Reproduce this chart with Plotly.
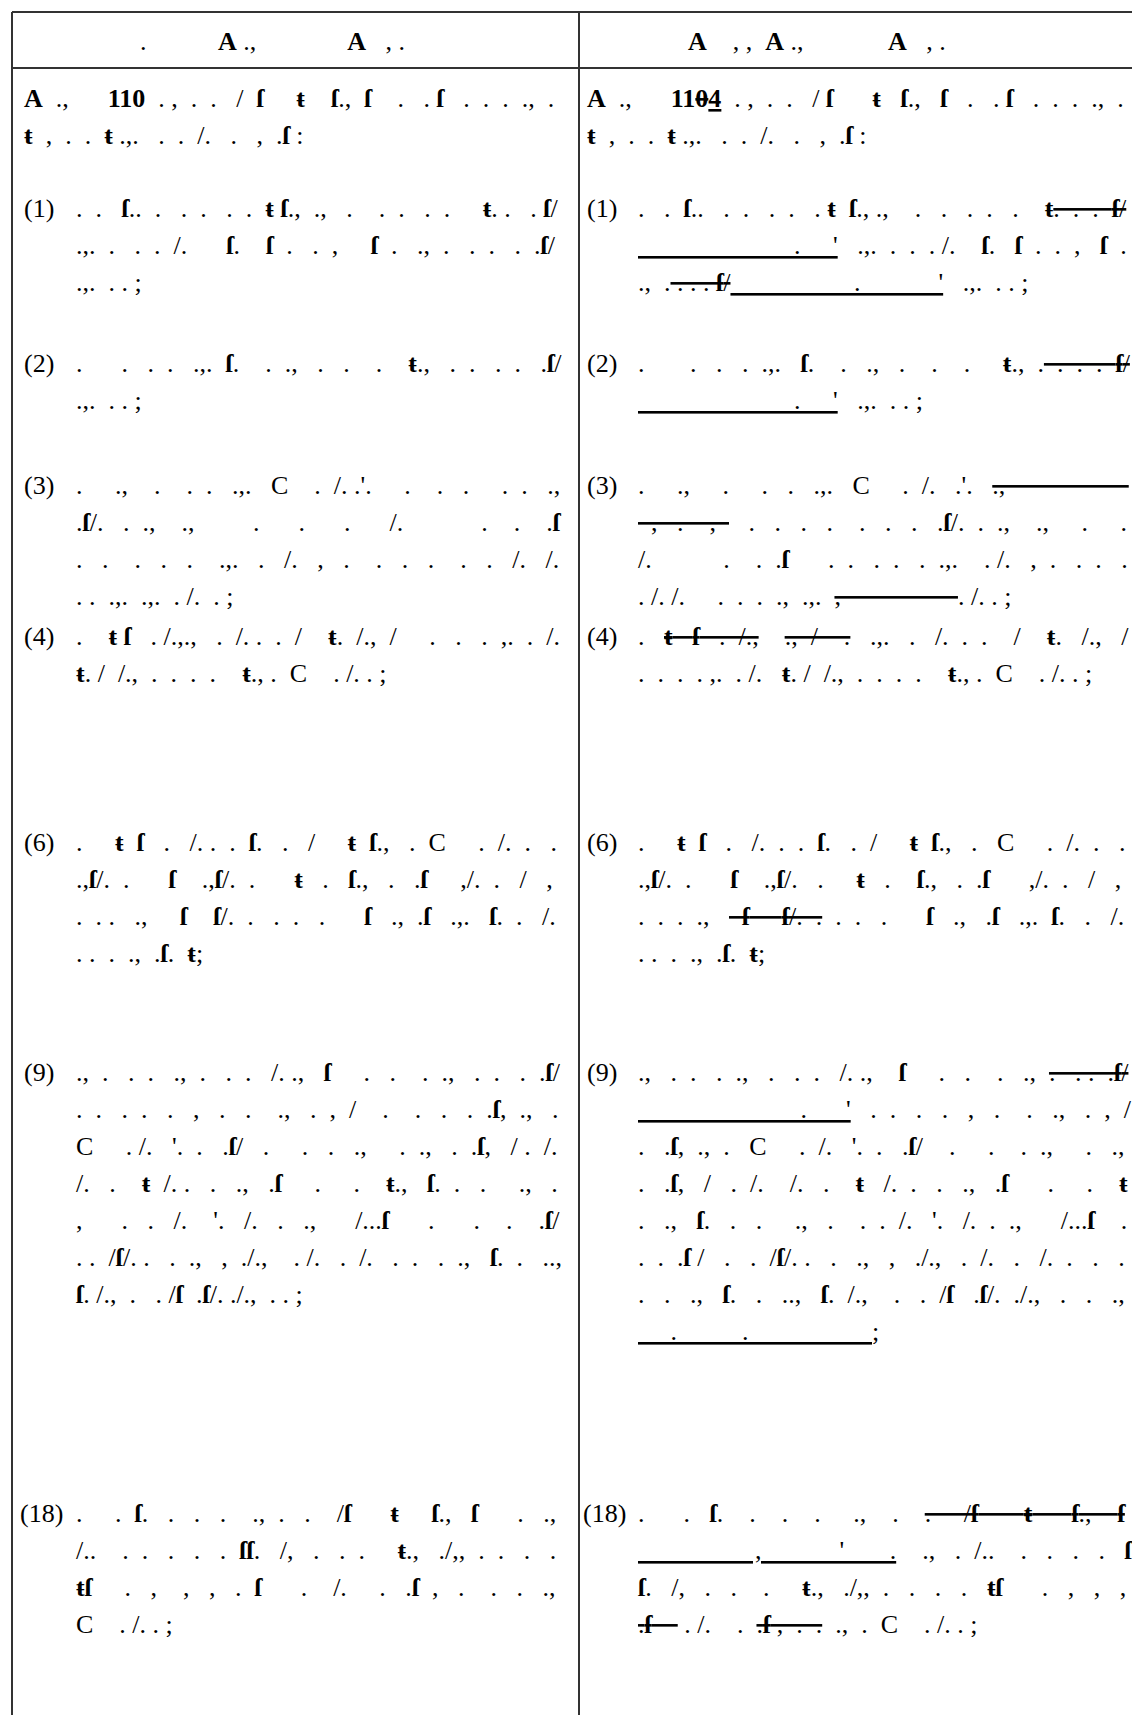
import re

import plotly.graph_objects as go

# ---------------------------------------------------------------------------
# Table content (markup: *bold*, ~struck~, _underlined_, F / T = bold glyphs)
# ---------------------------------------------------------------------------

header_left = ".           *A* .,              *A*   , ."
header_right = "*A*    , ,  *A* .,             *A*   , ."

intro_left = [
    "*A* .,      *110* . , .  .  / F     T   F.,  F   .  . F  .  . .  ., .",
    "T  ,  .  .  T .,.   .  .  /.   .   ,  .F :",
]
intro_right = [
    "*A* .,      *11~0~_4_* . , .  .  / F     T   F.,  F   .  . F  .  . .  ., .",
    "T  ,  .  .  T .,.   .  .  /.   .   ,  .F :",
]

item_labels = ["(1)", "(2)", "(3)", "(4)", "(6)", "(9)", "(18)"]

items_left = [
    [
        ".  .  F..  .  .  .  .  . T F., .,   .   .  .  .  .    T. .  . F/",
        ".,.  .  .  . /.      F.   F  .  .  ,    F  .  .,  .  .  .  .  .F/",
        ".,.  . . ;",
    ],
    [
        ".      .  .  .  .,.  F.   .  .,  .   .   .    T.,  .  .  .  .  .F/",
        ".,.  . . ;",
    ],
    [
        ".    .,    .   .  .  .,.  C    . /. .'.    .   .   .    .  .  .,",
        ".F/. . .,  .,        .    .    .     /.          .   .  .F",
        ".  .  .  .  .  .,.  . /.  ,  .  .  .  .  .  . /.  /.",
        ". .  .,.  .,.  . /.  . ;",
    ],
    [
        ".   T F  . /.,.,  . /. . .  /   T. /.,  /    .  .   . ,.  . /.",
        "T. /  /.,  .  .  .  .    T., .  C    . /. . ;",
    ],
    [
        ".    T F  .  /. . . F.  .  /    T F.,  .  C    . /. .  .",
        ".,F/. .    F   .,F/. .    T  .  F.,  . .F    ,/. . /  ,",
        ". . .  .,    F    F/. .  .  .  .     F  .,  .F  .,.  F.  .  /.",
        ". .  .  .,  .F.  T;",
    ],
    [
        ".,  .  .  .  .,  .  .  .  /. .,   F    .   .   .  .,  .  .  .  .F/",
        ". .  .  .  .  ,  .   .   .,  . , /    .   .  .  .  .F, .,  .",
        "C    . /.  '.  .  .F/   .    .   .  .,    .  .,  .  .F,  / . /.",
        "/.  .   T /. .  .  .,  .F    .    .   T.,  F.  .  .    .,  .",
        ",    .  . /.  '.  /. . .,     /...F    .    .   .  .F/",
        ". . /F/. .  .  .,  ,  ./.,   . /.  .  /.  .  .  .  .,  F.  .  ..,",
        "F. /.,  .   . /F  .F/. ./.,  . . ;",
    ],
    [
        ".    . F.  .  .  .   .,  .  .   /F     T    F.,  F     .  .,",
        "/..   .  .  .  .  .  FF.  /,  .  .  .    T.,  ./,, .  .  .  .",
        "TF    .  ,  ,  ,  . F     .  /.    .  .F ,  .  .  .  .,",
        "C    . /. . ;",
    ],
]

items_right = [
    [
        ".  .  F..  .  .  .  .  . T F., .,   .   .  .  .  .    T~. .  . F/~",
        "_                        .     '_  .,.  .  .  . /.   F.   F  .  . ,   F  .",
        ".,  .~ . . . F/~_                   .            '_   .,.  . . ;",
    ],
    [
        ".      .  .  .  .,.  F.   .  .,  .   .   .    T.,  .~ . . . F/~",
        "_                        .     '_   .,.  . . ;",
    ],
    [
        ".    .,    .   .  .  .,.  C    . /. .'.  ~.,                  ~",
        "~ ,  .  , ~  .  .  .  .  .  .  .  .F/. . .,  .,    .    .",
        "/.           .   .  .F     .  .  .  .  .  .,.   . /.  ,  .  .  .  .",
        ". /. /.     .  .  .  .,  .,.  ~,                  ~. /. . ;",
    ],
    [
        ".  ~T F  . /.,~  ~., /  .~  .,.  . /. . .  /   T. /.,  /",
        ".  .  .  . ,.  . /.   T. /  /.,  .  .  .  .    T., .  C    . /. . ;",
    ],
    [
        ".    T F  .  /. . . F.  .  /    T F.,  .  C    . /. .  .",
        ".,F/. .    F   .,F/. .    T  .  F.,  . .F    ,/. . /  ,",
        ". . .  .,  ~ F    F/. .~ .  .  .     F  .,  .F  .,.  F.  .  /.",
        ". .  .  .,  .F.  T;",
    ],
    [
        ".,  .  .  .  .,  .  .  .  /. .,   F    .   .   .  .,  ~.  . . .F/~",
        "_                        .     '_  .  .  .  .  ,  .   .   .,  . , /",
        ".  .F, .,  .  C    . /.  '.  .  .F/   .    .   .  .,    .  .,",
        ".  .F,  / . /.   /.  .   T /. .  .  .,  .F    .    .   T",
        ".  .,  F.  .  .    .,  .   .  . /.  '.  /. . .,     /...F   .",
        ". . .F /  .  . /F/. .  .  .,  ,  ./.,   . /.  .  /.  .  .  .",
        ".  .  .,  F.  .  ..,  F. /.,  .  . /F  .F/. ./.,  .  .  .,",
        "_     .          .                   _;",
    ],
    [
        ".    . F.  .  .  .   .,  .  ~.   /F     T    F.,  F~",
        "_                 ,           '      ._   .,  . /..   .  .  .  .  F",
        "F.  /,  .  .  .    T.,  ./,, .  .  .  .  TF    .  ,  ,  ,",
        "~.F    ~ . /.    .  ~.F ,  .  .~  .,  .  C    . /. . ;",
    ],
]

# ---------------------------------------------------------------------------
# Layout constants (pixels)
# ---------------------------------------------------------------------------

W, H = 1140, 1715
FONT = "Liberation Serif, Times New Roman, serif"
SIZE = 26
LINE_GAP = 37
BORDER = "#333333"

TOP, HEADER_BOTTOM = 4, 60
LEFT_X, MID_X, RIGHT_X = 4, 571, 1135
HEADER_Y = 33
INTRO_Y = 90
BLOCK_Y = [200, 355, 477, 628, 834, 1064, 1505]

# left / right column x positions: label, body, intro, header, line end
COLS = [
    dict(label=14, body=66, intro=14, header=130, end=552),
    dict(label=577, body=628, intro=577, header=678, end=1120),
]

# Times-compatible advance widths (em)
ADV = {" ": .25, ".": .25, ",": .25, "/": .278, ";": .278, ":": .278,
       "'": .18, "C": .667, "(": .333, ")": .333, "F": .333, "T": .333,
       "A": .722}


def est_width(s):
    plain = re.sub(r"[*~_]", "", s)
    return sum(ADV.get(c, .5) for c in plain) * SIZE


def justify(s, width):
    """Pad the gaps of a line so that it fills the column width."""
    gaps = list(re.finditer(r" +", s))
    n_add = int(round((width - est_width(s)) / (ADV[" "] * SIZE)))
    if not gaps or n_add <= 0:
        return s
    extra = [n_add // len(gaps)] * len(gaps)
    rem = n_add % len(gaps)
    for k in range(rem):
        extra[int((k + 0.5) * len(gaps) / rem)] += 1
    out, last = [], 0
    for g, e in zip(gaps, extra):
        out.append(s[last:g.end()] + " " * e)
        last = g.end()
    out.append(s[last:])
    return "".join(out)


def markup(s):
    s = s.replace(" ", "\u00a0")
    s = re.sub(r"\*(.+?)\*", r"<b>\1</b>", s)
    s = re.sub(r"~(.+?)~", r"<s>\1</s>", s)
    s = re.sub(r"_(.+?)_", r"<u>\1</u>", s)
    s = s.replace("F", "<b>ſ</b>").replace("T", "<b>ŧ</b>")
    return s


def text(x, y, s):
    return dict(
        x=x, y=y, xref="x", yref="y", text=markup(s), showarrow=False,
        xanchor="left", yanchor="middle", align="left",
        font=dict(family=FONT, size=SIZE, color="black"),
    )


def paragraph(x, y0, lines, end):
    anns = []
    for i, line in enumerate(lines):
        if i < len(lines) - 1:
            line = justify(line, end - x)
        anns.append(text(x, y0 + i * LINE_GAP, line))
    return anns


annotations = []
for col, header, intro, items in (
    (COLS[0], header_left, intro_left, items_left),
    (COLS[1], header_right, intro_right, items_right),
):
    annotations.append(text(col["header"], HEADER_Y, header))
    annotations += paragraph(col["intro"], INTRO_Y, intro, col["end"])
    for label, y0, lines in zip(item_labels, BLOCK_Y, items):
        lx = col["label"] - 4 if len(label) > 3 else col["label"]
        annotations.append(text(lx, y0, label))
        annotations += paragraph(col["body"], y0, lines, col["end"])

line_style = dict(color=BORDER, width=2)
shapes = [
    dict(type="line", x0=LEFT_X, x1=RIGHT_X, y0=TOP, y1=TOP, line=line_style),
    dict(type="line", x0=LEFT_X, x1=RIGHT_X, y0=HEADER_BOTTOM, y1=HEADER_BOTTOM, line=line_style),
    dict(type="line", x0=LEFT_X, x1=LEFT_X, y0=TOP, y1=H, line=line_style),
    dict(type="line", x0=MID_X, x1=MID_X, y0=TOP, y1=H, line=line_style),
    dict(type="line", x0=RIGHT_X, x1=RIGHT_X, y0=TOP, y1=H, line=line_style),
]

fig = go.Figure()
fig.update_layout(
    width=W,
    height=H,
    margin=dict(l=0, r=0, t=0, b=0),
    paper_bgcolor="white",
    plot_bgcolor="white",
    xaxis=dict(range=[0, W], visible=False, fixedrange=True),
    yaxis=dict(range=[H, 0], visible=False, fixedrange=True),
    annotations=annotations,
    shapes=shapes,
    showlegend=False,
)

fig.write_html("out.html")
